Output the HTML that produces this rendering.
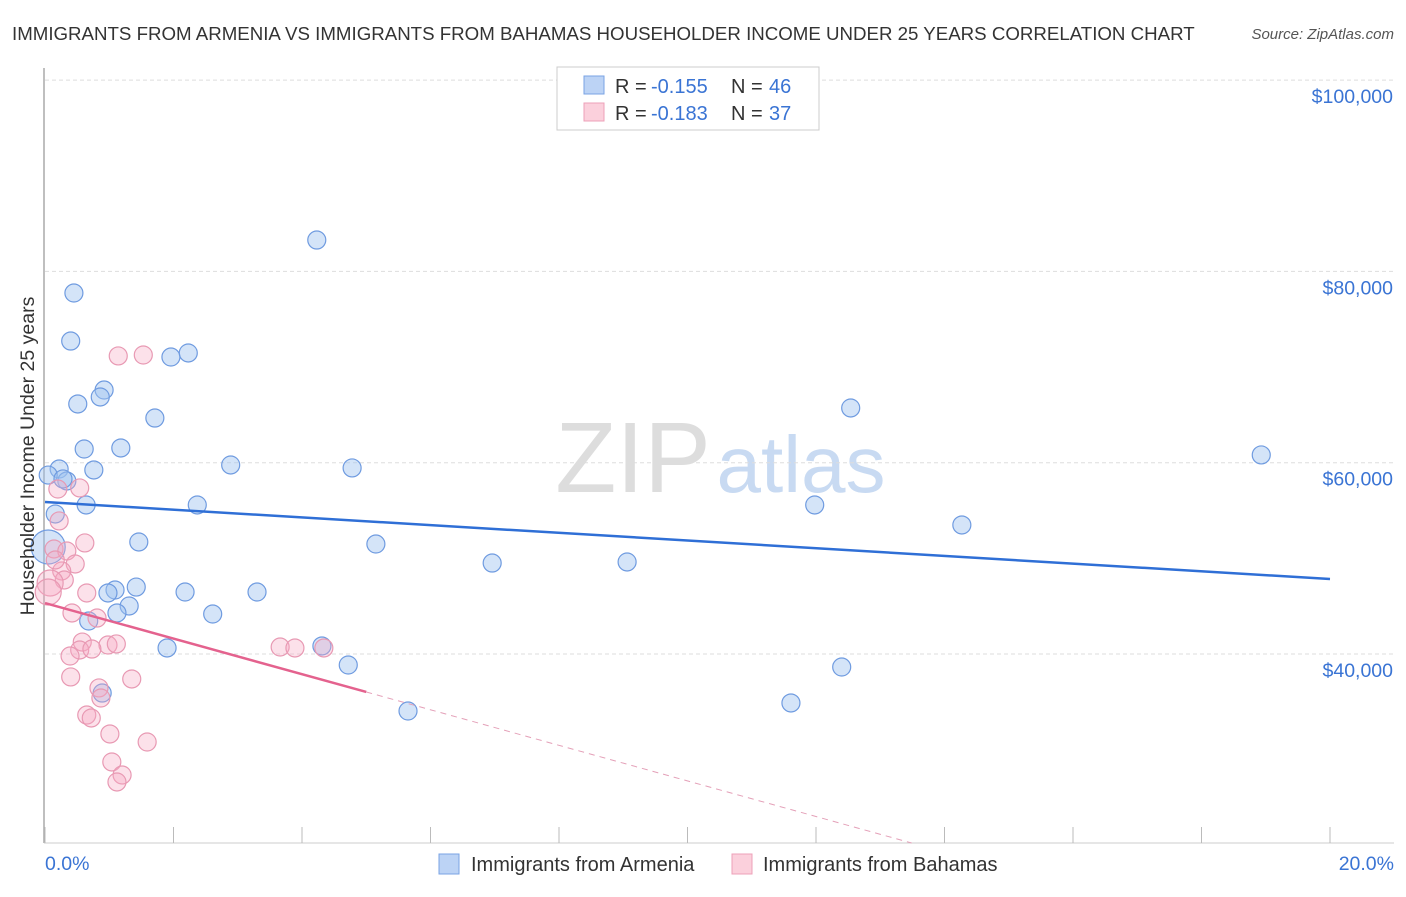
<!DOCTYPE html>
<html><head><meta charset="utf-8"><style>
body{margin:0;background:#fff;font-family:"Liberation Sans",sans-serif}
svg text{font-family:"Liberation Sans",sans-serif}
</style></head><body>
<svg id="chart" width="1406" height="892">
<text x="12" y="40" font-size="18.7" fill="#333">IMMIGRANTS FROM ARMENIA VS IMMIGRANTS FROM BAHAMAS HOUSEHOLDER INCOME UNDER 25 YEARS CORRELATION CHART</text>
<text x="1394" y="39" font-size="15" fill="#555" font-style="italic" text-anchor="end">Source: ZipAtlas.com</text>
<g><text x="633" y="492" font-size="100" fill="#ddd" font-family="Liberation Serif" text-anchor="middle">ZIP</text><text x="801" y="492" font-size="80" fill="#c8daf2" text-anchor="middle">atlas</text></g>
<g id="grid"></g><g id="axes"></g><g id="marks"></g>
<text transform="translate(34,456) rotate(-90)" font-size="19.5" fill="#333" text-anchor="middle">Householder Income Under 25 years</text>
<text x="45" y="870" font-size="19.5" fill="#3a74d4">0.0%</text>
<text x="1394" y="870" font-size="19.5" fill="#3a74d4" text-anchor="end">20.0%</text>
<g>
<rect x="557" y="67" width="262" height="63" fill="#fff" stroke="#ccc"/>
<rect x="584" y="76" width="20" height="18" fill="#bcd3f5" stroke="#7aa3e4"/>
<rect x="584" y="103" width="20" height="18" fill="#fbd0dc" stroke="#eea0b8"/>
<text y="93" font-size="20" fill="#333"><tspan x="615">R =</tspan><tspan x="651" fill="#3a74d4">-0.155</tspan><tspan x="731">N =</tspan><tspan x="769" fill="#3a74d4">46</tspan></text>
<text y="120" font-size="20" fill="#333"><tspan x="615">R =</tspan><tspan x="651" fill="#3a74d4">-0.183</tspan><tspan x="731">N =</tspan><tspan x="769" fill="#3a74d4">37</tspan></text>
</g>
<g>
<rect x="439" y="854" width="20" height="20" fill="#bcd3f5" stroke="#7aa3e4"/>
<text x="471" y="871" font-size="20" fill="#333">Immigrants from Armenia</text>
<rect x="732" y="854" width="20" height="20" fill="#fbd0dc" stroke="#eea0b8"/>
<text x="763" y="871" font-size="20" fill="#333">Immigrants from Bahamas</text>
</g>
</svg>
<script>
const yTicks=[40,60,80,100];
const yTickLabels=["$40,000","$60,000","$80,000","$100,000"];
const xTicks=[0,2,4,6,8,10,12,14,16,18,20];
const armeniaX=[4.23,0.45,0.40,1.96,2.23,0.92,0.86,0.51,1.71,12.54,0.61,1.18,2.89,4.78,18.93,0.22,0.76,0.05,0.34,0.28,0.64,2.37,11.98,14.27,0.16,1.46,5.15,0.05,6.96,9.06,1.09,0.98,1.42,2.18,3.30,1.31,1.12,2.61,0.68,1.90,4.31,4.72,12.40,5.65,11.61,0.89];
const armeniaY=[83.28,77.74,72.72,71.05,71.47,67.60,66.87,66.14,64.67,65.72,61.43,61.54,59.76,59.45,60.81,59.34,59.24,58.71,58.09,58.30,55.58,55.58,55.58,53.49,54.64,51.71,51.50,51.19,49.51,49.62,46.69,46.38,47.00,46.48,46.48,45.02,44.29,44.18,43.45,40.63,40.84,38.85,38.64,34.04,34.88,35.92];
const bahamasX=[1.53,1.14,0.54,0.20,0.22,0.62,0.14,0.34,0.47,0.26,0.30,0.08,0.05,0.65,0.42,0.81,0.98,0.58,1.11,0.54,0.39,0.73,3.66,3.89,4.34,0.40,1.35,0.84,0.87,0.65,0.72,1.01,1.59,1.04,1.20,1.12,0.16];
const bahamasY=[71.26,71.16,57.36,57.25,53.91,51.61,50.98,50.77,49.41,48.68,47.74,47.42,46.48,46.38,44.29,43.76,40.94,41.25,41.05,40.42,39.79,40.52,40.73,40.63,40.63,37.60,37.39,36.45,35.40,33.62,33.31,31.64,30.80,28.71,27.35,26.62,49.83];
const armeniaTrend=[55.89,47.84];
const bahamasTrend=[45.33,-1.86];
const bahamasSolidEnd=5.0;
const NS="http://www.w3.org/2000/svg";
const xs=v=>45+v/20*1285;
const ys=v=>654-(v-40)*191.3/20;
function mk(t,a,p){const e=document.createElementNS(NS,t);for(const k in a)e.setAttribute(k,a[k]);document.getElementById(p).appendChild(e);return e;}
yTicks.forEach((t,i)=>{
 const l=mk('line',{x1:45,x2:1394,y1:ys(t),y2:ys(t),stroke:'#ddd','stroke-dasharray':'4,3'},'grid');
 
 
 const tx=mk('text',{x:1393,y:ys(t)+23,'font-size':19.5,fill:'#3a74d4','text-anchor':'end'},'grid');
 tx.textContent=yTickLabels[i];
 
 
});
const ax=mk('line',{x1:44,x2:44,y1:68,y2:843,stroke:'#aaa','stroke-width':1.5},'axes');


const bx=mk('line',{x1:44,x2:1394,y1:843,y2:843,stroke:'#ccc'},'axes');


xTicks.forEach(t=>{
 const l=mk('line',{x1:xs(t),x2:xs(t),y1:827,y2:843,stroke:'#bbb'},'axes');
 
 
});
armeniaX.forEach((x,i)=>{
 const big=(x<0.1&&armeniaY[i]>50&&armeniaY[i]<52);
 const c=mk('circle',{cx:xs(x),cy:ys(armeniaY[i]),r:big?17:9,fill:'rgba(160,195,240,0.45)',stroke:'#6f9be0','stroke-width':1.2},'marks');
 
 
});
bahamasX.forEach((x,i)=>{
 const big=(x<0.1);
 const c=mk('circle',{cx:xs(x),cy:ys(bahamasY[i]),r:big?13:9,fill:'rgba(245,170,195,0.35)',stroke:'#e899b3','stroke-width':1.2},'marks');
 
 
});
const bt=mk('line',{x1:xs(0),y1:ys(armeniaTrend[0]),x2:xs(20),y2:ys(armeniaTrend[1]),stroke:'#2f6fd6','stroke-width':2.5},'marks');


const pAt=x=>bahamasTrend[0]+bahamasTrend[1]*x;
const pt=mk('line',{x1:xs(0),y1:ys(pAt(0)),x2:xs(bahamasSolidEnd),y2:ys(pAt(bahamasSolidEnd)),stroke:'#e4628e','stroke-width':2.5},'marks');


const xEnd=(bahamasTrend[0]-20.24)/-bahamasTrend[1];
const pd=mk('line',{x1:xs(bahamasSolidEnd),y1:ys(pAt(bahamasSolidEnd)),x2:xs(xEnd),y2:ys(pAt(xEnd)),stroke:'#e4a0b8','stroke-width':1,'stroke-dasharray':'6,5'},'marks');


</script>
</body></html>
